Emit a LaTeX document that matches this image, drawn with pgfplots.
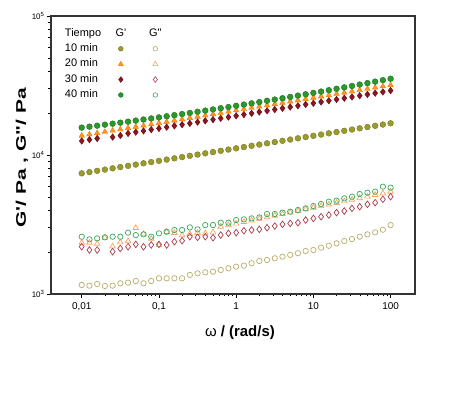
\documentclass[border=0pt]{standalone}
\usepackage{fontspec}
\setmainfont{Liberation Sans}
\usepackage{graphicx}
\usepackage{pgfplots}
\usepackage{pgfplotstable}
\pgfplotsset{compat=1.18}
\definecolor{cAf}{RGB}{155,155,45}
\definecolor{cAd}{RGB}{120,120,30}
\definecolor{cAo}{RGB}{185,172,105}
\definecolor{cBf}{RGB}{255,150,35}
\definecolor{cBd}{RGB}{235,125,0}
\definecolor{cBo}{RGB}{245,165,95}
\definecolor{cCf}{RGB}{140,22,32}
\definecolor{cCd}{RGB}{105,10,20}
\definecolor{cCo}{RGB}{170,60,75}
\definecolor{cDf}{RGB}{45,150,45}
\definecolor{cDd}{RGB}{20,115,20}
\definecolor{cDo}{RGB}{60,165,90}
\pgfplotstableread{
x g10 gg10 g20 gg20 g30 gg30 g40 gg40
0.01 7379 1161 13770 2340 12618 2188 15740 2583
0.01259 7534 1148 14062 2340 12884 2073 15990 2473
0.01585 7691 1180 14359 2300 13155 2073 16255 2514
0.01995 7852 1142 14664 2540 nan nan 16524 2557
0.02512 8017 1148 14974 2200 13450 2017 16800 2583
0.03162 8185 1194 15291 2356 13800 2128 17085 2583
0.03981 8356 1206 15615 2400 14299 2188 17378 2762
0.05012 8531 1240 15946 2985 14600 2275 17680 2656
0.06310 8710 1194 16284 2700 14907 2188 17993 2686
0.07943 8892 1240 16629 2500 15221 2252 18315 2583
0.1 9078 1297 16981 2250 15542 2275 18650 2731
0.1259 9268 1297 17340 2800 15869 2252 18990 2805
0.1585 9462 1297 17708 2750 16203 2377 19342 2886
0.1995 9661 1297 18083 2650 16544 2418 19704 2886
0.2512 9863 1371 18466 2700 16893 2583 20078 3017
0.3162 10069 1409 18857 2750 17248 2557 20464 2918
0.3981 10280 1433 19256 2731 17612 2583 20864 3131
0.5012 10495 1447 19664 2780 17982 2541 21274 3131
0.6310 10715 1489 20080 3048 18361 2656 21700 3258
0.7943 10940 1531 20506 3129 18748 2731 22135 3258
1 11169 1573 20940 3213 19142 2762 22588 3404
1.259 11402 1600 21383 3299 19545 2851 23054 3443
1.585 11641 1665 21836 3387 19957 2886 23532 3499
1.995 11885 1728 22299 3477 20377 2918 24026 3557
2.512 12134 1757 22771 3570 20806 2998 24541 3763
3.162 12388 1807 23253 3665 21244 3083 25061 3763
3.981 12647 1857 23746 3763 21692 3170 25605 3848
5.012 12912 1910 24249 3864 22148 3221 26165 3912
6.310 13183 1964 24762 3967 22615 3258 26744 4018
7.943 13459 2039 25287 4073 23091 3404 27342 4130
10 13740 2073 25822 4181 23577 3499 27955 4295
12.59 14028 2153 26369 4293 24074 3597 28598 4439
15.85 14322 2225 26928 4408 24581 3698 29258 4610
19.95 14622 2316 27498 4525 25098 3848 29946 4688
25.12 14928 2404 28080 4646 25627 3954 30650 4874
31.62 15241 2486 28675 4770 26166 4130 31380 5012
39.81 15560 2583 29282 4897 26717 4246 32130 5240
50.12 15885 2686 29902 5028 27280 4416 32910 5355
63.10 16218 2778 30536 5162 27854 4539 33710 5446
79.43 16558 2900 31182 5300 28441 4797 34550 5917
100 16904 3131 31843 5441 29040 5012 35390 5826
}\data
\pgfplotsset{
  mylegmark/.style={legend image code/.code={\path (0cm,-1pt) (0.6cm,1pt);
      \draw[##1,only marks] plot coordinates {(0.3cm,0cm)};}},
  myleghead/.style={legend image code/.code={\path (0cm,-1pt) (0.6cm,1pt);
      \node[inner sep=0pt,anchor=center] at (0.3cm,0cm) {#1};}},
}
\begin{document}
\begin{tikzpicture}
\useasboundingbox (-51bp,-99bp) rectangle (423bp,294bp);
\begin{axis}[
  at={(0,0)}, anchor=south west,
  scale only axis, width=364bp, height=278bp,
  xmode=log, ymode=log,
  xmin=0.004, xmax=207, ymin=1000, ymax=100000,
  xtick={0.01,0.1,1,10,100},
  xticklabels={{0,01},{0,1},1,10,100},
  ytick={1000,10000,100000},
  yticklabels={10\textsuperscript{3},10\textsuperscript{4},10\textsuperscript{5}},
  tick pos=left, tick align=outside,
  major tick length=4bp, minor tick length=2.5bp,
  every tick/.style={black, line width=0.6pt},
  axis line style={line width=1.1pt, black!80},
  xticklabel style={font=\fontsize{10}{12}\selectfont, yshift=-1bp},
  yticklabel style={font=\fontsize{8}{9}\selectfont, xshift=1bp},
  xlabel={{\mdseries ω} / (rad/s)},
  ylabel={\scalebox{1.5}[1]{G\textquotesingle/ Pa , G\textquotedbl/ Pa}},
  xlabel style={font=\fontsize{15}{18}\selectfont\bfseries, at={(axis description cs:0.519,-0.140)}, anchor=center},
  ylabel style={font=\fontsize{14}{17}\selectfont\bfseries, at={(axis description cs:-0.080,0.49)}, anchor=center},
  legend columns=3,
  legend style={at={(axis description cs:0.0357,0.960)}, anchor=north west,
    draw=none, fill=none, inner sep=0pt, outer sep=0pt,
    font=\fontsize{11}{13}\selectfont,
    nodes={inner sep=1bp, text height=8bp, text depth=2.5bp},
    row sep=2.9bp,
    /tikz/column 2/.style={column sep=10bp},
    /tikz/column 4/.style={column sep=15bp}},
  legend cell align=left,
]
% data
\addplot[forget plot, only marks, mark=o, mark size=2.7bp, draw=cAo, line width=0.7pt] table[x=x,y=gg10]{\data};
\addplot[forget plot, only marks, mark=*, mark size=2.9bp, draw=cAd, fill=cAf, line width=0.4pt] table[x=x,y=g10]{\data};
\addplot[forget plot, only marks, mark=triangle, mark size=3.2bp, draw=cBo, line width=0.7pt] table[x=x,y=gg20]{\data};
\addplot[forget plot, only marks, mark=triangle*, mark size=3.2bp, draw=cBd, fill=cBf, line width=0.4pt] table[x=x,y=g20]{\data};
\addplot[forget plot, only marks, mark=diamond, mark size=3.3bp, draw=cCo, line width=0.7pt] table[x=x,y=gg30]{\data};
\addplot[forget plot, only marks, mark=diamond*, mark size=3.3bp, draw=cCd, fill=cCf, line width=0.4pt] table[x=x,y=g30]{\data};
\addplot[forget plot, only marks, mark=o, mark size=2.7bp, draw=cDo, line width=0.7pt] table[x=x,y=gg40]{\data};
\addplot[forget plot, only marks, mark=*, mark size=2.9bp, draw=cDd, fill=cDf, line width=0.4pt] table[x=x,y=g40]{\data};
% legend
\addlegendimage{empty legend}\addlegendentry{Tiempo}
\addlegendimage{myleghead={G\textquotesingle}}\addlegendentry{}
\addlegendimage{myleghead={G\textquotedbl}}\addlegendentry{}
\addlegendimage{empty legend}\addlegendentry{10 min}
\addlegendimage{mylegmark, mark=*, mark size=2.4bp, draw=cAd, fill=cAf, line width=0.4pt}\addlegendentry{}
\addlegendimage{mylegmark, mark=o, mark size=2.3bp, draw=cAo, line width=0.6pt}\addlegendentry{}
\addlegendimage{empty legend}\addlegendentry{20 min}
\addlegendimage{mylegmark, mark=triangle*, mark size=2.9bp, draw=cBd, fill=cBf, line width=0.4pt}\addlegendentry{}
\addlegendimage{mylegmark, mark=triangle, mark size=2.8bp, draw=cBo, line width=0.6pt}\addlegendentry{}
\addlegendimage{empty legend}\addlegendentry{30 min}
\addlegendimage{mylegmark, mark=diamond*, mark size=2.9bp, draw=cCd, fill=cCf, line width=0.4pt}\addlegendentry{}
\addlegendimage{mylegmark, mark=diamond, mark size=2.8bp, draw=cCo, line width=0.6pt}\addlegendentry{}
\addlegendimage{empty legend}\addlegendentry{40 min}
\addlegendimage{mylegmark, mark=*, mark size=2.4bp, draw=cDd, fill=cDf, line width=0.4pt}\addlegendentry{}
\addlegendimage{mylegmark, mark=o, mark size=2.3bp, draw=cDo, line width=0.6pt}\addlegendentry{}
\end{axis}
\end{tikzpicture}
\end{document}
